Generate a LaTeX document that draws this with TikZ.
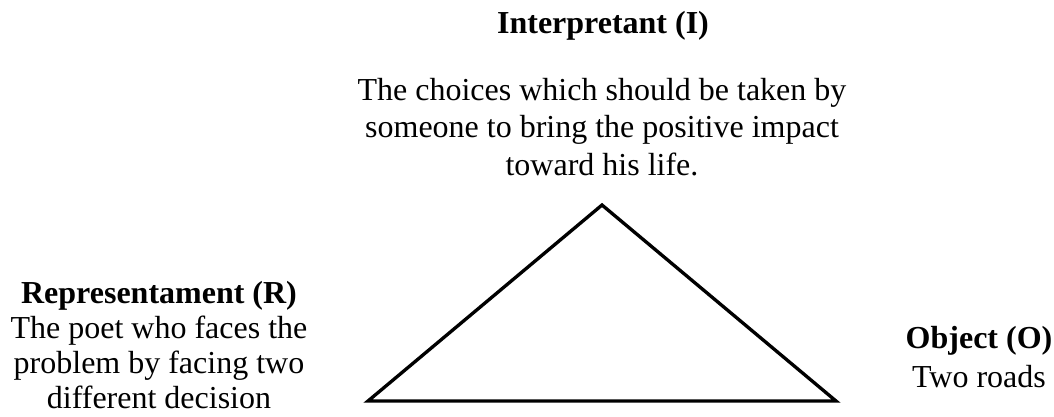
\documentclass[tikz,border=0pt]{standalone}
\usepackage{fontspec}
\setmainfont{Liberation Serif}
\usepackage{tikz}
\usetikzlibrary{positioning}

\begin{document}
\begin{tikzpicture}[x=.375pt,y=-.375pt,
 t/.style={align=center,inner sep=0pt,anchor=base,font=\fontsize{12}{14}\selectfont},
 h/.style={t,font=\fontsize{12}{14}\selectfont\bfseries},
 tri/.style={draw=black,line width=1.25pt,line join=miter}]
 \useasboundingbox (0,0) rectangle (1054,416);
 \node[h] (itit) at (603,33) {Interpretant (I)};
 \node[t] (itxt) at (602,175) {The choices which should be taken by\\someone to bring the positive impact\\toward his life.};
 \node[t,font=\fontsize{12}{13.1}\selectfont] (rtxt) at (159,408) {\textbf{Representament (R)}\\The poet who faces the\\problem by facing two\\different decision};
 \node[t,font=\fontsize{12}{14.6}\selectfont] (otxt) at (979,387) {\textbf{Object (O)}\\Two roads};
 \coordinate (apex) at (602,205);
 \coordinate (left) at (368,401);
 \coordinate (right) at (836,401);
 \draw[tri] (left) -- (apex) -- (right) -- cycle;
\end{tikzpicture}
\end{document}
